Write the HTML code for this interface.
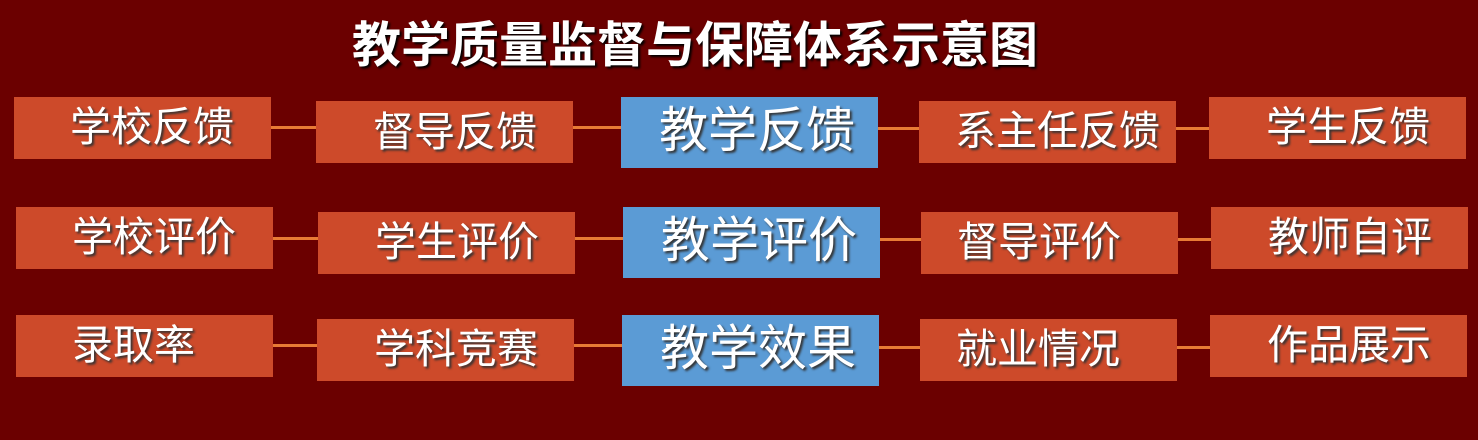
<!DOCTYPE html>
<html><head><meta charset="utf-8"><style>
body{margin:0;width:1478px;height:440px;background:#6b0000;position:relative;overflow:hidden;font-family:"Liberation Sans","Noto Sans CJK SC",sans-serif;}
.t{position:absolute;left:352px;top:6px;font-size:49px;font-weight:bold;color:#fff;text-shadow:2px 2px 2px #000;white-space:nowrap}
.b{position:absolute;width:257px;height:62px;background:#cd4a2a;color:#fff;font-size:41px;line-height:60px;text-shadow:2px 2px 2px #333;white-space:nowrap;box-sizing:border-box}
.c{background:#5b9bd5;height:71px;line-height:68px;font-size:49px;padding-left:38px}
.l{position:absolute;height:3px;background:#e87b35}
</style></head><body>
<div class="t">教学质量监督与保障体系示意图</div>

<div class="l" style="left:270px;width:352px;top:126px"></div>
<div class="l" style="left:877px;width:334px;top:127px"></div>
<div class="l" style="left:272px;width:352px;top:237px"></div>
<div class="l" style="left:879px;width:334px;top:238px"></div>
<div class="l" style="left:271px;width:352px;top:344px"></div>
<div class="l" style="left:878px;width:334px;top:346px"></div>

<div class="b" style="left:14px;top:97px;padding-left:56px">学校反馈</div>
<div class="b" style="left:316px;top:101px;padding-left:57px;line-height:62px">督导反馈</div>
<div class="b c" style="left:621px;top:97px">教学反馈</div>
<div class="b" style="left:919px;top:101px;padding-left:36px">系主任反馈</div>
<div class="b" style="left:1209px;top:97px;padding-left:57px">学生反馈</div>

<div class="b" style="left:16px;top:207px;padding-left:56px">学校评价</div>
<div class="b" style="left:318px;top:212px;padding-left:57px">学生评价</div>
<div class="b c" style="left:623px;top:207px">教学评价</div>
<div class="b" style="left:921px;top:212px;padding-left:36px">督导评价</div>
<div class="b" style="left:1211px;top:207px;padding-left:57px">教师自评</div>

<div class="b" style="left:16px;top:315px;padding-left:56px">录取率</div>
<div class="b" style="left:317px;top:319px;padding-left:57px">学科竞赛</div>
<div class="b c" style="left:622px;top:315px">教学效果</div>
<div class="b" style="left:920px;top:319px;padding-left:36px">就业情况</div>
<div class="b" style="left:1210px;top:315px;padding-left:57px">作品展示</div>
</body></html>
